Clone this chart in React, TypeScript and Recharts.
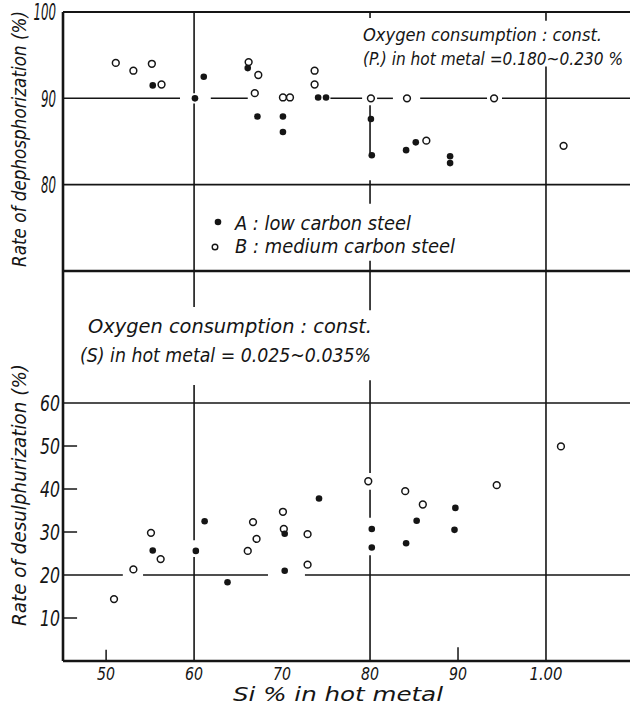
import React from "react";
import { ScatterChart, Scatter, XAxis, YAxis, ReferenceLine } from "recharts";

// ---------- data ----------
const dephosA = [
  { x: 0.553, y: 91.5 }, { x: 0.601, y: 90.0 }, { x: 0.611, y: 92.5 }, { x: 0.661, y: 93.5 },
  { x: 0.672, y: 87.9 }, { x: 0.701, y: 87.9 }, { x: 0.701, y: 86.1 }, { x: 0.741, y: 90.1 },
  { x: 0.75, y: 90.1 }, { x: 0.801, y: 87.6 }, { x: 0.802, y: 83.4 }, { x: 0.841, y: 84.0 },
  { x: 0.852, y: 84.9 }, { x: 0.891, y: 83.3 }, { x: 0.891, y: 82.5 },
];
const dephosB = [
  { x: 0.511, y: 94.1 }, { x: 0.531, y: 93.2 }, { x: 0.552, y: 94.0 }, { x: 0.563, y: 91.6 },
  { x: 0.662, y: 94.2 }, { x: 0.673, y: 92.7 }, { x: 0.669, y: 90.6 }, { x: 0.701, y: 90.1 },
  { x: 0.709, y: 90.1 }, { x: 0.737, y: 93.2 }, { x: 0.737, y: 91.6 }, { x: 0.801, y: 90.0 },
  { x: 0.842, y: 90.0 }, { x: 0.941, y: 90.0 }, { x: 0.864, y: 85.1 }, { x: 1.02, y: 84.5 },
];
const desulA = [
  { x: 0.553, y: 25.7 }, { x: 0.602, y: 25.6 }, { x: 0.612, y: 32.5 }, { x: 0.638, y: 18.3 },
  { x: 0.703, y: 29.6 }, { x: 0.703, y: 21.0 }, { x: 0.742, y: 37.8 }, { x: 0.802, y: 30.7 },
  { x: 0.802, y: 26.4 }, { x: 0.841, y: 27.4 }, { x: 0.853, y: 32.6 }, { x: 0.896, y: 30.5 },
  { x: 0.897, y: 35.6 },
];
const desulB = [
  { x: 0.509, y: 14.4 }, { x: 0.531, y: 21.3 }, { x: 0.551, y: 29.8 }, { x: 0.562, y: 23.7 },
  { x: 0.661, y: 25.6 }, { x: 0.667, y: 32.3 }, { x: 0.671, y: 28.4 }, { x: 0.701, y: 34.7 },
  { x: 0.702, y: 30.7 }, { x: 0.729, y: 29.5 }, { x: 0.729, y: 22.4 }, { x: 0.798, y: 41.8 },
  { x: 0.84, y: 39.5 }, { x: 0.86, y: 36.4 }, { x: 0.944, y: 40.9 }, { x: 1.017, y: 49.9 },
];

const xTicks = [0.5, 0.6, 0.7, 0.8, 0.9, 1.0];
const xTickLabels = ["50", "60", "70", "80", "90", "1.00"];
const topYTicks = [80, 90, 100];
const bottomYTicks = [10, 20, 30, 40, 50, 60];

const X_DOMAIN: [number, number] = [0.451, 1.0955];
const TOP_DOMAIN: [number, number] = [70, 100];
const BOTTOM_DOMAIN: [number, number] = [0, 90.7];

// grid line pieces (data coordinates), gaps as in the original drawing
const topH90 = [[0.451, 0.584], [0.619, 0.661], [0.755, 0.791], [0.808, 0.826], [0.857, 0.933], [0.95, 1.0955]];
const topV60 = [[100, 90.6], [89.4, 70]];
const topV80 = [[100, 99.3], [89.2, 83.2], [80.5, 77.8], [71.2, 70]];
const topV100 = [[100, 99], [93.7, 70]];
const botH20 = [[0.451, 0.519], [0.542, 0.684], [0.726, 1.0955]];
const botV60 = [[90.7, 82.3], [64.2, 28.1], [24.2, 0]];
const botV80 = [[90.7, 81.6], [65.3, 43.7], [39.8, 33.3], [24.6, 0]];
const botYTickMarks = [10, 30, 40, 50];
const botXTickMarks = [[0.5, 2.6], [0.9, 3.2]];

const FONT = "'DejaVu Sans Condensed', 'Liberation Sans Narrow', 'DejaVu Sans', sans-serif";
const INK = "#151515";

const FilledDot = (p: any) => <circle cx={p.cx} cy={p.cy} r={3.3} fill={INK} />;
const OpenDot = (p: any) => (
  <circle cx={p.cx} cy={p.cy} r={3.4} fill="#fff" stroke={INK} strokeWidth={1.5} />
);

const mkYTick = (fs: number, perChar: number) => (p: any) => {
  const s = String(p.payload.value);
  return (
    <text x={p.x} y={p.y} dy="0.36em" textAnchor="end" fontSize={fs} fontStyle="italic"
      fontFamily={FONT} fill={INK} textLength={s.length * perChar} lengthAdjust="spacingAndGlyphs">
      {s}
    </text>
  );
};

const XTick = (p: any) => {
  const i = xTicks.findIndex((t) => Math.abs(t - p.payload.value) < 1e-6);
  const s = i >= 0 ? xTickLabels[i] : String(p.payload.value);
  const len = s === "1.00" ? 33 : 18;
  return (
    <text x={p.x} y={p.y} dy="0.74em" textAnchor="middle" fontSize={17} fontStyle="italic"
      fontFamily={FONT} fill={INK} textLength={len} lengthAdjust="spacingAndGlyphs">
      {s}
    </text>
  );
};

const hseg = (y: number, a: number, b: number, w: number, key: string) => (
  <ReferenceLine key={key} segment={[{ x: a, y }, { x: b, y }]} stroke={INK} strokeWidth={w} ifOverflow="visible" />
);
const vseg = (x: number, a: number, b: number, w: number, key: string) => (
  <ReferenceLine key={key} segment={[{ x, y: a }, { x, y: b }]} stroke={INK} strokeWidth={w} ifOverflow="visible" />
);

export default function App() {
  return (
    <div style={{ position: "absolute", left: 0, top: 0, width: 630, height: 708, background: "#fff", overflow: "hidden" }}>
      <div style={{ position: "absolute", left: 0, top: 0 }}>
        <ScatterChart width={630} height={275} margin={{ top: 12, right: 0, bottom: 4, left: 0 }}>
          <XAxis type="number" dataKey="x" domain={X_DOMAIN} allowDataOverflow hide />
          <YAxis type="number" dataKey="y" domain={TOP_DOMAIN} allowDataOverflow ticks={topYTicks}
            width={63} tickLine={false} tickSize={7} tickMargin={0}
            axisLine={{ stroke: INK, strokeWidth: 2.6 }} tick={mkYTick(23, 7.5)} />
          {hseg(100, X_DOMAIN[0], X_DOMAIN[1], 2, "t100")}
          {hseg(70, X_DOMAIN[0], X_DOMAIN[1], 2.6, "t70")}
          {hseg(80, X_DOMAIN[0], X_DOMAIN[1], 1.6, "t80")}
          {topH90.map((s, i) => hseg(90, s[0], s[1], 1.5, "t90" + i))}
          {topV60.map((s, i) => vseg(0.6, s[0], s[1], 1.6, "tv6" + i))}
          {topV80.map((s, i) => vseg(0.8, s[0], s[1], 1.6, "tv8" + i))}
          {topV100.map((s, i) => vseg(1.0, s[0], s[1], 1.6, "tv10" + i))}
          <Scatter data={dephosB} shape={OpenDot} isAnimationActive={false} />
          <Scatter data={dephosA} shape={FilledDot} isAnimationActive={false} />
        </ScatterChart>
      </div>
      <div style={{ position: "absolute", left: 0, top: 271 }}>
        <ScatterChart width={630} height={437} margin={{ top: 0, right: 0, bottom: 12, left: 0 }}>
          <XAxis type="number" dataKey="x" domain={X_DOMAIN} allowDataOverflow ticks={xTicks}
            height={35} tickLine={false} tickSize={4} tickMargin={2}
            axisLine={{ stroke: INK, strokeWidth: 2.6 }} tick={XTick} />
          <YAxis type="number" dataKey="y" domain={BOTTOM_DOMAIN} allowDataOverflow ticks={bottomYTicks}
            width={63} tickLine={false} tickSize={3} tickMargin={0}
            axisLine={{ stroke: INK, strokeWidth: 2.6 }} tick={mkYTick(22, 10)} />
          {hseg(60, X_DOMAIN[0], X_DOMAIN[1], 1.6, "b60")}
          {botH20.map((s, i) => hseg(20, s[0], s[1], 1.5, "b20" + i))}
          {botV60.map((s, i) => vseg(0.6, s[0], s[1], 1.6, "bv6" + i))}
          {botV80.map((s, i) => vseg(0.8, s[0], s[1], 1.6, "bv8" + i))}
          {vseg(1.0, 90.7, 0, 1.6, "bv10")}
          {botYTickMarks.map((v) => hseg(v, X_DOMAIN[0], 0.467, 1.5, "ym" + v))}
          {botXTickMarks.map((m) => vseg(m[0], 0, m[1], 1.5, "xm" + m[0]))}
          <Scatter data={desulB} shape={OpenDot} isAnimationActive={false} />
          <Scatter data={desulA} shape={FilledDot} isAnimationActive={false} />
        </ScatterChart>
      </div>
      <svg width={630} height={708} style={{ position: "absolute", left: 0, top: 0, pointerEvents: "none" }}
        fontFamily={FONT} fontStyle="italic" fill={INK}>
        <text x={363} y={41} fontSize={18} textLength={239} lengthAdjust="spacingAndGlyphs">Oxygen consumption : const.</text>
        <text x={363} y={65} fontSize={17} textLength={260} lengthAdjust="spacingAndGlyphs">(P.) in hot metal =0.180~0.230 %</text>
        <circle cx={218} cy={222} r={3.3} fill={INK} />
        <text x={235} y={230} fontSize={20} textLength={176} lengthAdjust="spacingAndGlyphs">A : low carbon steel</text>
        <circle cx={215} cy={247} r={2.8} fill="#fff" stroke={INK} strokeWidth={1.4} />
        <text x={235} y={253} fontSize={20} textLength={220} lengthAdjust="spacingAndGlyphs">B : medium carbon steel</text>
        <text x={88} y={333} fontSize={20} textLength={284} lengthAdjust="spacingAndGlyphs">Oxygen consumption  : const.</text>
        <text x={80} y={362} fontSize={20} textLength={291} lengthAdjust="spacingAndGlyphs">(S) in hot metal = 0.025~0.035%</text>
        <text transform="translate(26,139) rotate(-90)" textAnchor="middle" fontSize={19} textLength={256} lengthAdjust="spacingAndGlyphs">Rate of dephosphorization (%)</text>
        <text transform="translate(26,495) rotate(-90)" textAnchor="middle" fontSize={19} textLength={262} lengthAdjust="spacingAndGlyphs">Rate of desulphurization (%)</text>
        <text x={233} y={701} fontSize={20} textLength={210} lengthAdjust="spacingAndGlyphs">Si % in hot metal</text>
      </svg>
    </div>
  );
}
